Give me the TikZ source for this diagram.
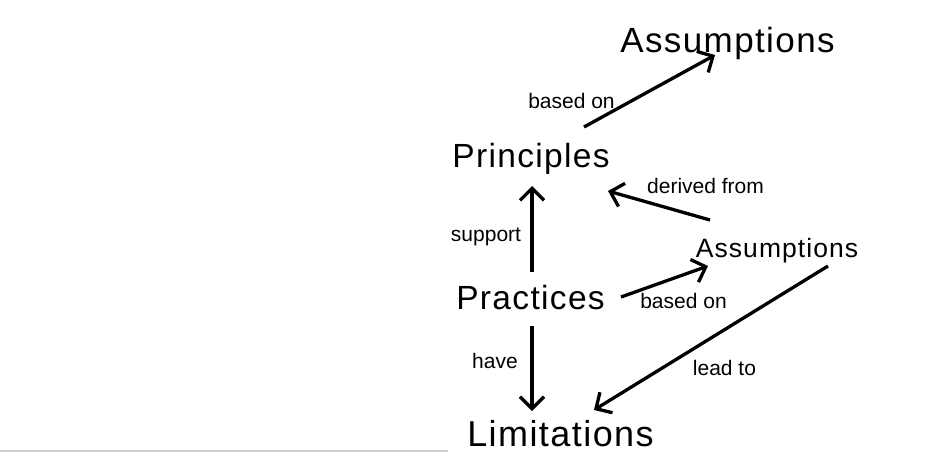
\documentclass[tikz,border=0pt]{standalone}
\usepackage{fontspec}
\setmainfont{Liberation Sans}
\usetikzlibrary{arrows.meta, calc}
\definecolor{rulegray}{RGB}{210, 210, 210}

\begin{document}
\begin{tikzpicture}[
    x=1pt, y=-1pt,
    arrow/.style={-{Straight Barb[length=12pt, width=24pt]}, line width=3.3pt, draw=black},
    concept/.style={inner sep=0pt, anchor=base,
        font=\fontsize{#1}{#1}\selectfont\addfontfeatures{LetterSpace=4}},
    linklabel/.style={inner sep=0pt, anchor=base, font=\fontsize{21}{21}\selectfont},
    baserule/.style={draw=rulegray, line width=2pt}
]

% === Canvas ===
\useasboundingbox (0, 0) rectangle (931, 459);

% === Concepts ===
\node[concept=35] (asmtop) at (727.5, 52) {Assumptions};
\node[concept=33.5] (princ) at (531, 167) {Principles};
\node[concept=33.5] (pract) at (530.5, 309) {Practices};
\node[concept=26.5] (asmside) at (777, 257) {Assumptions};
\node[concept=36] (limit) at (560.5, 446) {Limitations};

% === Link labels ===
\node[linklabel] (lbasedtop) at (571.5, 108) {based on};
\node[linklabel] (lderived) at (705.5, 193) {derived from};
\node[linklabel] (lsupport) at (486, 241) {support};
\node[linklabel] (lbasedlow) at (683.5, 308) {based on};
\node[linklabel] (lhave) at (495, 368) {have};
\node[linklabel] (llead) at (724.5, 375) {lead to};

% === Links ===
% Principles -> Assumptions (top)
\draw[arrow] ($(princ.base) + (53, -40)$) -- ($(asmtop.base) + (-12.5, 3)$);
% Assumptions (side) -> Principles
\draw[arrow] ($(asmside.base) + (-67, -37)$) -- ($(princ.base) + (77, 24)$);
% Practices -> Principles
\draw[arrow] ($(pract.base) + (1.5, -37)$) -- ($(princ.base) + (1, 19)$);
% Practices -> Assumptions (side)
\draw[arrow] ($(pract.base) + (90.5, -12)$) -- ($(asmside.base) + (-69, 9)$);
% Practices -> Limitations
\draw[arrow] ($(pract.base) + (1.5, 17)$) -- ($(limit.base) + (-28.5, -35)$);
% Assumptions (side) -> Limitations
\draw[arrow] ($(asmside.base) + (51, 9)$) -- ($(limit.base) + (33.5, -36)$);

% === Bottom rule ===
\draw[baserule] (0, 450.5) -- (448, 450.5);

\end{tikzpicture}
\end{document}
